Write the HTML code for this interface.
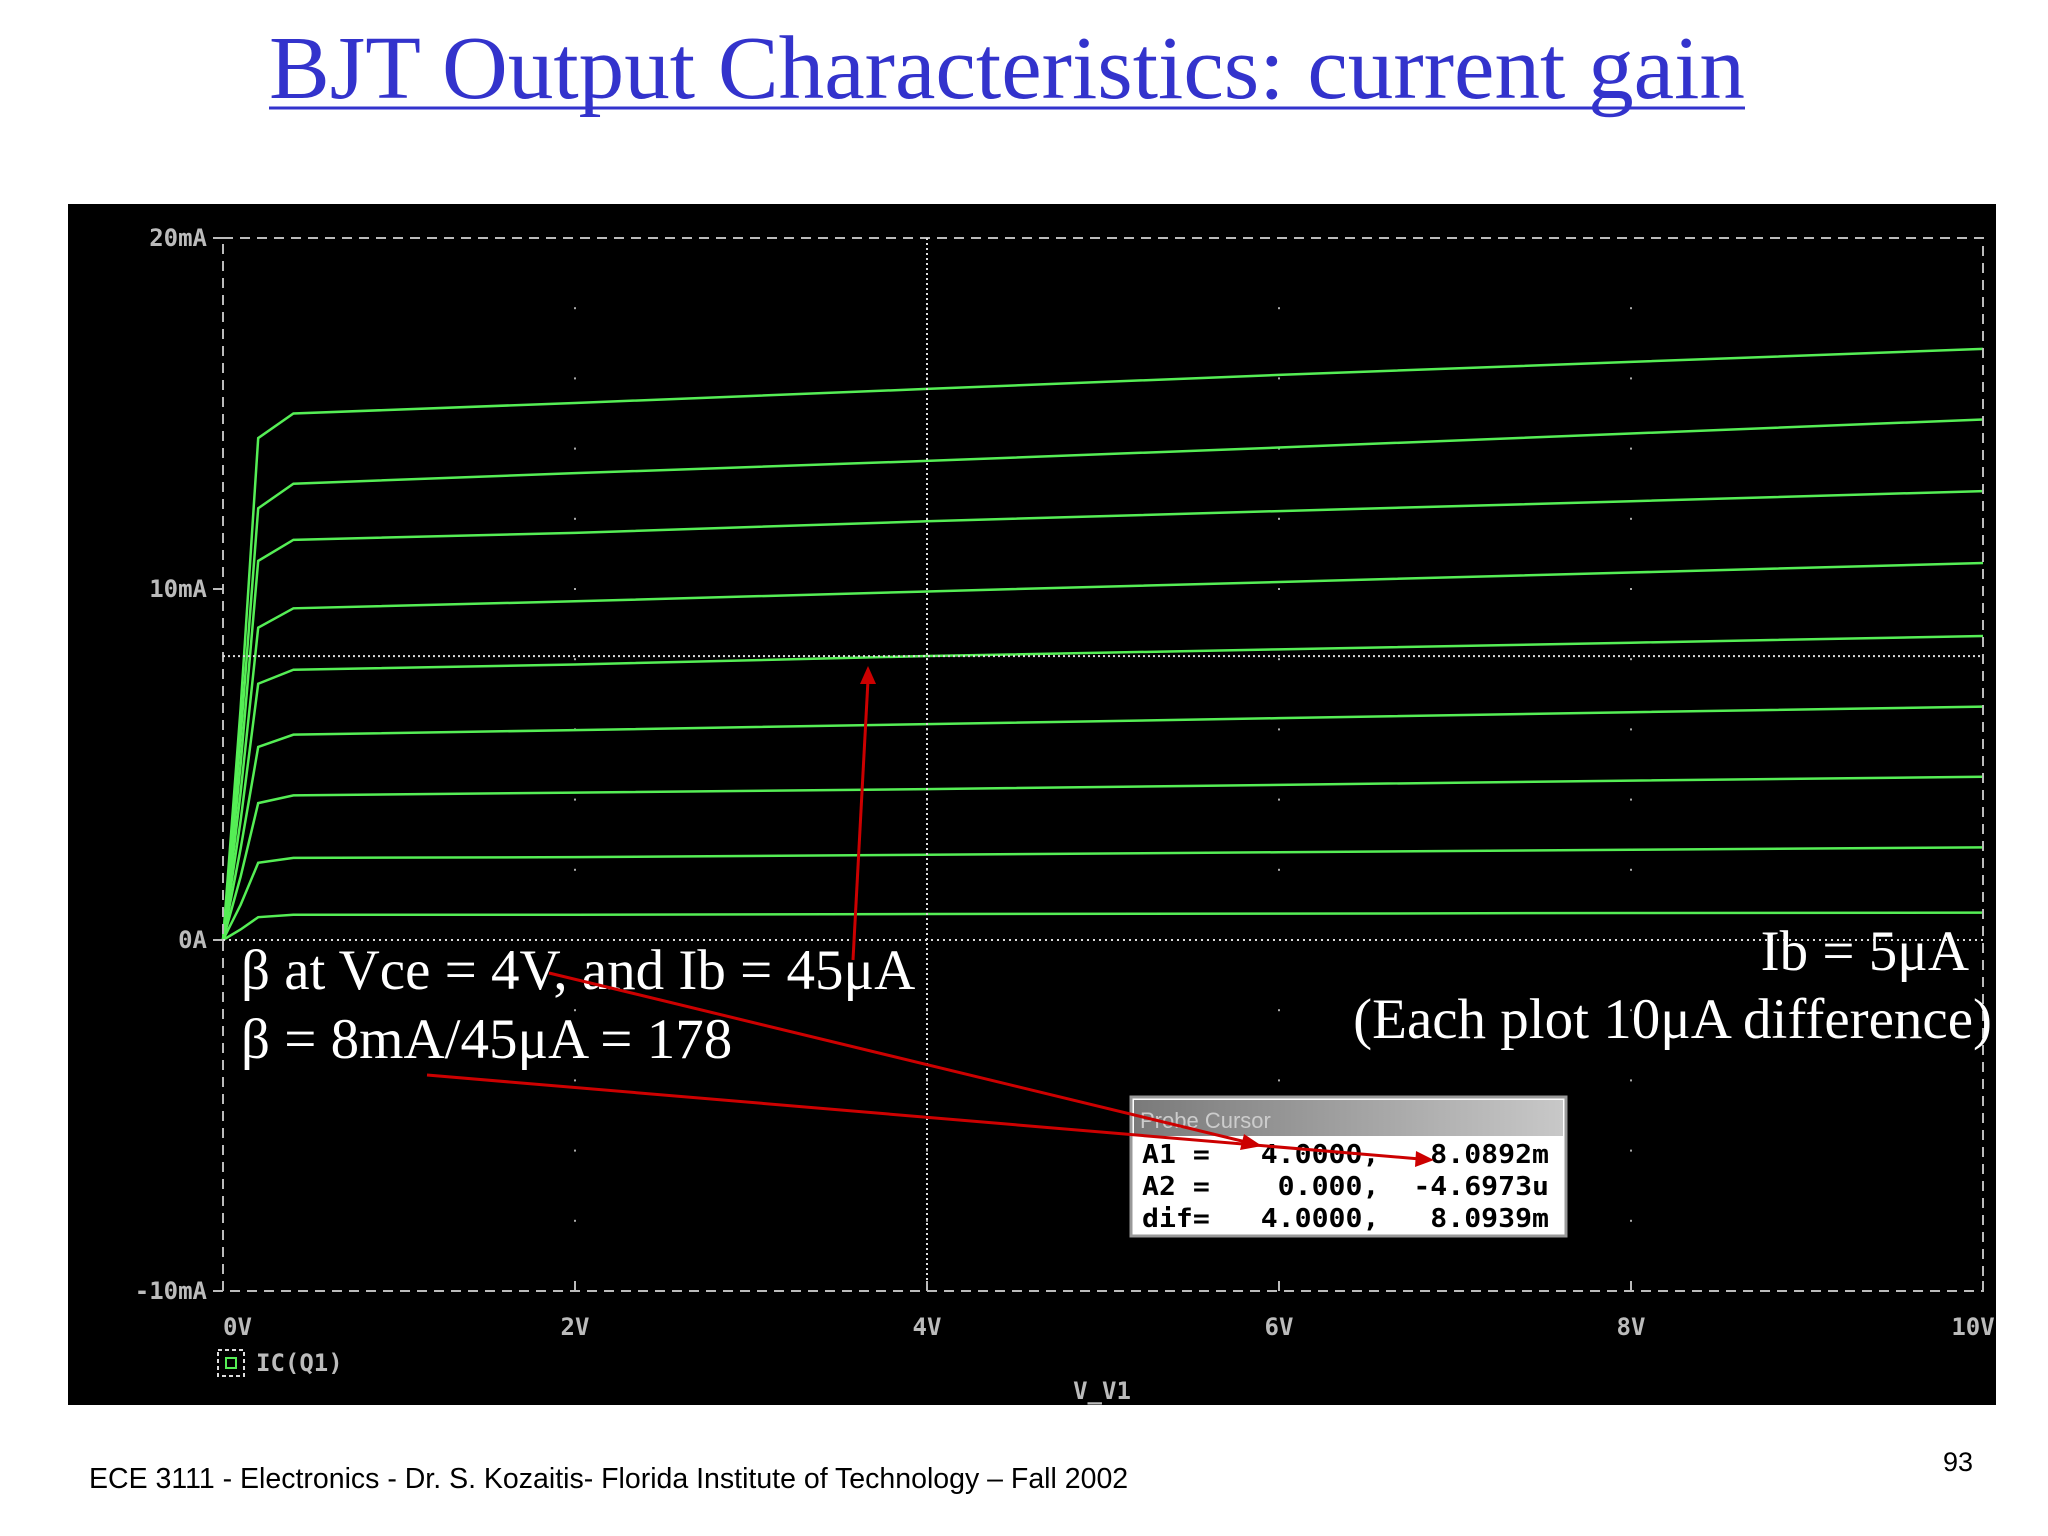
<!DOCTYPE html>
<html><head><meta charset="utf-8"><style>
html,body{margin:0;padding:0;background:#fff;width:2048px;height:1536px;overflow:hidden}
svg{display:block}
.mono{font-family:"DejaVu Sans Mono","Liberation Mono",monospace;font-weight:bold}
.serif{font-family:"Liberation Serif",serif}
</style></head><body>
<svg id="chart" width="2048" height="1536" viewBox="0 0 2048 1536" xmlns="http://www.w3.org/2000/svg">
<text x="269" y="98" textLength="1476" lengthAdjust="spacingAndGlyphs" class="serif" font-size="90" fill="#3333cc">BJT Output Characteristics: current gain</text>
<line x1="269" y1="108" x2="1745" y2="108" stroke="#3333cc" stroke-width="3"/>
<rect x="68" y="204" width="1928" height="1201" fill="#000"/>
<g id="grid"></g>
<g id="curves"></g>
<g id="axes"></g>
<g>
<text x="241" y="989" class="serif" font-size="57" fill="#fff">β at Vce = 4V, and Ib = 45μA</text>
<text x="241" y="1058" class="serif" font-size="57" fill="#fff">β = 8mA/45μA = 178</text>
<text x="1969" y="970" text-anchor="end" class="serif" font-size="57" fill="#fff">Ib = 5μA</text>
<text x="1992" y="1038" text-anchor="end" class="serif" font-size="57" fill="#fff">(Each plot 10μA difference)</text>
</g>
<g>
<defs><linearGradient id="tb" x1="0" x2="1"><stop offset="0" stop-color="#7a7a7a"/><stop offset="1" stop-color="#c8c8c8"/></linearGradient></defs>
<rect x="1131" y="1097" width="435" height="139" fill="#fff" stroke="#999" stroke-width="3"/>
<rect x="1134" y="1100" width="429" height="36" fill="url(#tb)"/>
<text x="1140" y="1128" font-family="Liberation Sans,sans-serif" font-size="22" fill="#ccc">Probe Cursor</text>
<text class="mono" font-size="26" fill="#000" x="1142" y="1163" textLength="407" lengthAdjust="spacingAndGlyphs" xml:space="preserve">A1 =   4.0000,   8.0892m</text>
<text class="mono" font-size="26" fill="#000" x="1142" y="1195" textLength="407" lengthAdjust="spacingAndGlyphs" xml:space="preserve">A2 =    0.000,  -4.6973u</text>
<text class="mono" font-size="26" fill="#000" x="1142" y="1227" textLength="407" lengthAdjust="spacingAndGlyphs" xml:space="preserve">dif=   4.0000,   8.0939m</text>
</g>
<g stroke="#cc0000" stroke-width="3" fill="#cc0000">
<line x1="853" y1="960" x2="868" y2="680"/><polygon points="868,666 860,684 876,684" stroke="none"/>
<line x1="549" y1="973" x2="1250" y2="1143"/><polygon points="1262,1146 1244,1134 1240,1150" stroke="none"/>
<line x1="427" y1="1075" x2="1420" y2="1159"/><polygon points="1434,1160 1416,1151 1415,1167" stroke="none"/>
</g>
<text x="89" y="1488" font-family="Liberation Sans,sans-serif" font-size="28.5" fill="#000">ECE 3111 - Electronics - Dr. S. Kozaitis- Florida Institute of Technology – Fall 2002</text>
<text x="1943" y="1471" font-family="Liberation Sans,sans-serif" font-size="27" fill="#000">93</text>
</svg>
<script>
const vGrid=[0,0.1,0.2,0.4,2,4,6,8,10];
const c1=[0,0.3,0.65,0.72,0.72,0.74,0.75,0.77,0.78];
const c2=[0,1.0,2.2,2.34,2.36,2.43,2.5,2.57,2.64];
const c3=[0,1.8,3.9,4.12,4.2,4.3,4.42,4.54,4.65];
const c4=[0,2.6,5.5,5.85,5.98,6.15,6.32,6.49,6.65];
const c5=[0,3.4,7.3,7.7,7.85,8.09,8.28,8.47,8.66];
const c6=[0,4.2,8.9,9.45,9.65,9.93,10.2,10.47,10.74];
const c7=[0,5.0,10.8,11.4,11.6,11.93,12.22,12.5,12.79];
const c8=[0,5.8,12.3,13.0,13.3,13.65,14.03,14.43,14.83];
const c9=[0,6.6,14.3,15.0,15.3,15.7,16.1,16.47,16.84];
const xTicks=[0,2,4,6,8,10];
const xTickLabels=["0V","2V","4V","6V","8V","10V"];
const yTicks=[-10,0,10,20];
const yTickLabels=["-10mA","0A","10mA","20mA"];
const cursorV=4, cursorI=8.0892;

const NS="http://www.w3.org/2000/svg";
const X=v=>223+v*176;
const Y=i=>940-i*35.1;
function mk(tag,attrs,parent){const e=document.createElementNS(NS,tag);for(const k in attrs)e.setAttribute(k,attrs[k]);parent.appendChild(e);return e;}
const grid=document.getElementById('grid'),curves=document.getElementById('curves'),axes=document.getElementById('axes');
for(let v=2;v<10;v+=2){for(let i=-8;i<20;i+=2){if(i===0)continue;const d=mk('rect',{x:X(v)-1,y:Y(i)-1,width:2,height:2,fill:'#aaa'},grid);

}}
const fr=mk('rect',{x:X(0),y:Y(20),width:X(10)-X(0),height:Y(-10)-Y(20),fill:'none',stroke:'#bbb','stroke-width':2,'stroke-dasharray':'10,7'},axes);


const z=mk('line',{x1:X(0),x2:X(10),y1:Y(0),y2:Y(0),stroke:'#ddd','stroke-width':2,'stroke-dasharray':'2,4'},axes);


const cv=mk('line',{x1:X(cursorV),x2:X(cursorV),y1:Y(20),y2:Y(-10),stroke:'#ddd','stroke-width':2,'stroke-dasharray':'2,3'},axes);


const ch=mk('line',{x1:X(0),x2:X(10),y1:Y(cursorI),y2:Y(cursorI),stroke:'#ddd','stroke-width':2,'stroke-dasharray':'2,3'},axes);


[c1,c2,c3,c4,c5,c6,c7,c8,c9].forEach((c,k)=>{
 const p=mk('polyline',{points:vGrid.map((v,j)=>X(v)+','+Y(c[j])).join(' '),fill:'none',stroke:'#55ee55','stroke-width':2.5},curves);
 
 
});
xTicks.forEach((v,k)=>{
 mk('line',{x1:X(v),x2:X(v),y1:Y(-10),y2:Y(-10)-10,stroke:'#bbb','stroke-width':2},axes);
 const t=mk('text',{x:X(v)+(k===xTicks.length-1?-10:0),y:1335,'text-anchor':k===0?'start':'middle',class:'mono','font-size':24,fill:'#bbb'},axes);
 t.textContent=xTickLabels[k];
 
 
});
yTicks.forEach((i,k)=>{
 mk('line',{x1:X(0)-10,x2:X(0),y1:Y(i),y2:Y(i),stroke:'#bbb','stroke-width':2},axes);
 const t=mk('text',{x:X(0)-16,y:Y(i)+8,'text-anchor':'end',class:'mono','font-size':24,fill:'#bbb'},axes);
 t.textContent=yTickLabels[k];
 
 
});
const xt=mk('text',{x:1102,y:1399,'text-anchor':'middle',class:'mono','font-size':24,fill:'#bbb'},axes);
xt.textContent='V_V1';


const lg=mk('g',{},axes);


mk('rect',{x:218,y:1350,width:26,height:26,fill:'none',stroke:'#ddd','stroke-width':2,'stroke-dasharray':'4,3'},lg);
mk('rect',{x:226,y:1358,width:10,height:10,fill:'none',stroke:'#55ee55','stroke-width':2},lg);
const lt=mk('text',{x:256,y:1371,class:'mono','font-size':24,fill:'#bbb'},lg);
lt.textContent='IC(Q1)';
</script>
</body></html>
